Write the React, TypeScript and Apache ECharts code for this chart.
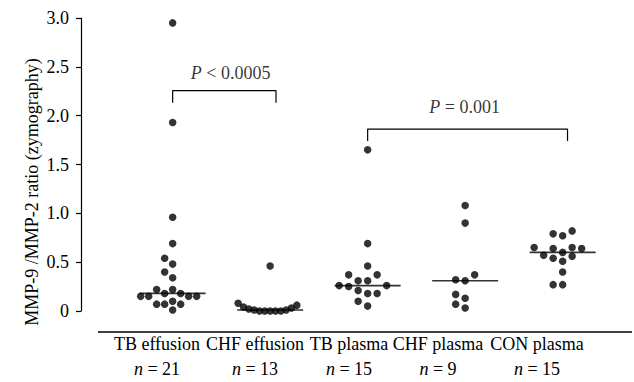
import React, { useEffect, useRef } from "react";
import * as echarts from "echarts";

// ---- data ----
const categories = ["TB effusion", "CHF effusion", "TB plasma", "CHF plasma", "CON plasma"];
const counts = [21, 13, 15, 9, 15];
const tbEffusion = [2.95, 1.93, 0.96, 0.69, 0.54, 0.48, 0.4, 0.34, 0.22, 0.22, 0.18, 0.18, 0.15, 0.15, 0.15, 0.15, 0.1, 0.07, 0.07, 0.07, 0.01];
const chfEffusion = [0.46, 0.08, 0.06, 0.04, 0.03, 0.02, 0.01, 0.01, 0, 0, 0, 0, 0];
const tbPlasma = [1.65, 0.69, 0.46, 0.37, 0.37, 0.31, 0.31, 0.26, 0.25, 0.26, 0.21, 0.18, 0.18, 0.1, 0.05];
const chfPlasma = [1.08, 0.9, 0.37, 0.32, 0.31, 0.17, 0.13, 0.07, 0.03];
const conPlasma = [0.82, 0.79, 0.77, 0.65, 0.65, 0.64, 0.64, 0.6, 0.57, 0.56, 0.54, 0.51, 0.4, 0.27, 0.27];
const groups = [tbEffusion, chfEffusion, tbPlasma, chfPlasma, conPlasma];
const yMin = 0;
const yMax = 3;
const yInterval = 0.5;
const yAxisTitle = "MMP-9 /MMP-2 ratio (zymography)";
// significance brackets
const bracketFrom = [0, 2];
const bracketTo = [1.06, 4.05];
const bracketTop = [2.256, 1.863];
const bracketDrop = [0.123, 0.123];
const pTexts = ["{i|P} < 0.0005", "{i|P} = 0.001"];
const pLabelX = [0.595, 2.995];
const pLabelY = [2.437, 2.089];

// ---- layout ----
const W = 634;
const H = 382;
const FONT = "'Liberation Serif', 'Times New Roman', serif";
const GRID_LEFT = 81;
const GRID_RIGHT = 4;
const GRID_TOP = 18;
const GRID_BOTTOM = 71;
const X_MIN = -0.94;
const PX_PER_X = 97.5;
const X_MAX = X_MIN + (W - GRID_LEFT - GRID_RIGHT) / PX_PER_X;
const PX_PER_Y = (H - GRID_TOP - GRID_BOTTOM) / (yMax - yMin);
const DOT = 7.5;
const STEP = 9.5;
const COLLIDE = 8;
const MAX_HALF = 32;
const labelCenters = [157, 255, 349, 438, 537];

function swarm(values: number[]): number[] {
  const order = values.map((_, i) => i).sort((a, b) => values[a] - values[b]);
  const placed: { k: number; y: number }[] = [];
  const ks: number[] = new Array(values.length).fill(0);
  for (const idx of order) {
    const y = values[idx] * PX_PER_Y;
    for (let t = 0; t < 100; t++) {
      const k = t === 0 ? 0 : t % 2 === 1 ? -Math.ceil(t / 2) : Math.ceil(t / 2);
      if (!placed.some((p) => p.k === k && Math.abs(p.y - y) < COLLIDE)) {
        placed.push({ k, y });
        ks[idx] = k;
        break;
      }
    }
  }
  const half = Math.max(...ks.map((k) => Math.abs(k))) * STEP;
  const scale = half > MAX_HALF ? MAX_HALF / half : 1;
  return ks.map((k) => (k * STEP * scale) / PX_PER_X);
}

function median(values: number[]): number {
  const s = [...values].sort((a, b) => a - b);
  const m = Math.floor(s.length / 2);
  return s.length % 2 ? s[m] : (s[m - 1] + s[m]) / 2;
}

export default function App() {
  const ref = useRef<HTMLDivElement>(null);
  useEffect(() => {
    if (!ref.current) return;
    const chart = echarts.init(ref.current, undefined, { renderer: "svg" });

    const dots: number[][] = [];
    groups.forEach((vals, gi) => {
      const offs = swarm(vals);
      vals.forEach((v, i) => dots.push([gi + offs[i], v]));
    });
    const medians = groups.map((vals, gi) => [gi, median(vals)]);

    const bracketSeries = bracketFrom.map((f, i) => ({
      type: "line",
      data: [
        [f, bracketTop[i] - bracketDrop[i]],
        [f, bracketTop[i]],
        [bracketTo[i], bracketTop[i]],
        [bracketTo[i], bracketTop[i] - bracketDrop[i]],
      ],
      symbol: "none",
      lineStyle: { color: "#000", width: 1.2 },
      silent: true,
      z: 1,
    }));

    const rich = {
      i: { fontStyle: "italic", fontFamily: FONT, fontSize: 18, color: "#000" },
    };

    chart.setOption({
      animation: false,
      grid: { left: GRID_LEFT, right: GRID_RIGHT, top: GRID_TOP, bottom: GRID_BOTTOM },
      xAxis: { type: "value", min: X_MIN, max: X_MAX, show: false },
      yAxis: {
        type: "value",
        min: yMin,
        max: yMax,
        interval: yInterval,
        axisLine: { show: true, onZero: false, lineStyle: { color: "#000", width: 1.2 } },
        axisTick: { show: true, inside: false, length: 5, lineStyle: { color: "#000", width: 1.2 } },
        splitLine: { show: false },
        axisLabel: {
          margin: 12,
          color: "#000",
          fontFamily: FONT,
          fontSize: 18,
          formatter: (v: number) => (v === 0 ? "0" : v.toFixed(1)),
        },
      },
      series: [
        ...bracketSeries,
        {
          type: "scatter",
          data: medians,
          symbol: "rect",
          symbolSize: [66, 1.6],
          itemStyle: { color: "#000" },
          silent: true,
          z: 2,
        },
        {
          type: "scatter",
          data: dots,
          symbol: "circle",
          symbolSize: DOT,
          itemStyle: { color: "#000" },
          silent: true,
          z: 3,
        },
        {
          type: "scatter",
          data: pLabelX.map((x, i) => ({
            value: [x, pLabelY[i]],
            label: {
              show: true,
              position: "inside",
              formatter: pTexts[i],
              color: "#000",
              fontFamily: FONT,
              fontSize: 18,
              rich,
            },
          })),
          symbolSize: 1,
          itemStyle: { color: "rgba(0,0,0,0)" },
          silent: true,
          z: 4,
        },
      ],
      graphic: [
        {
          type: "line",
          shape: { x1: 98, y1: 332, x2: 632, y2: 332 },
          style: { stroke: "#000", lineWidth: 1.3 },
        },
        {
          type: "text",
          x: 32,
          y: 192,
          rotation: Math.PI / 2,
          style: {
            text: yAxisTitle,
            fontFamily: FONT,
            fontSize: 18,
            fill: "#000",
            align: "center",
            verticalAlign: "middle",
          },
        },
        ...categories.map((c, i) => ({
          type: "text",
          x: labelCenters[i],
          y: 331,
          style: {
            text: `${c}\n{i|n} = ${counts[i]}`,
            rich: { i: { fontStyle: "italic", fontFamily: FONT, fontSize: 18, fill: "#000", lineHeight: 25 } },
            fontFamily: FONT,
            fontSize: 18,
            lineHeight: 25,
            fill: "#000",
            align: "center",
            verticalAlign: "top",
          },
        })),
      ],
    });
    return () => chart.dispose();
  }, []);
  return <div ref={ref} style={{ position: "absolute", left: 0, top: 0, width: W, height: H }} />;
}
